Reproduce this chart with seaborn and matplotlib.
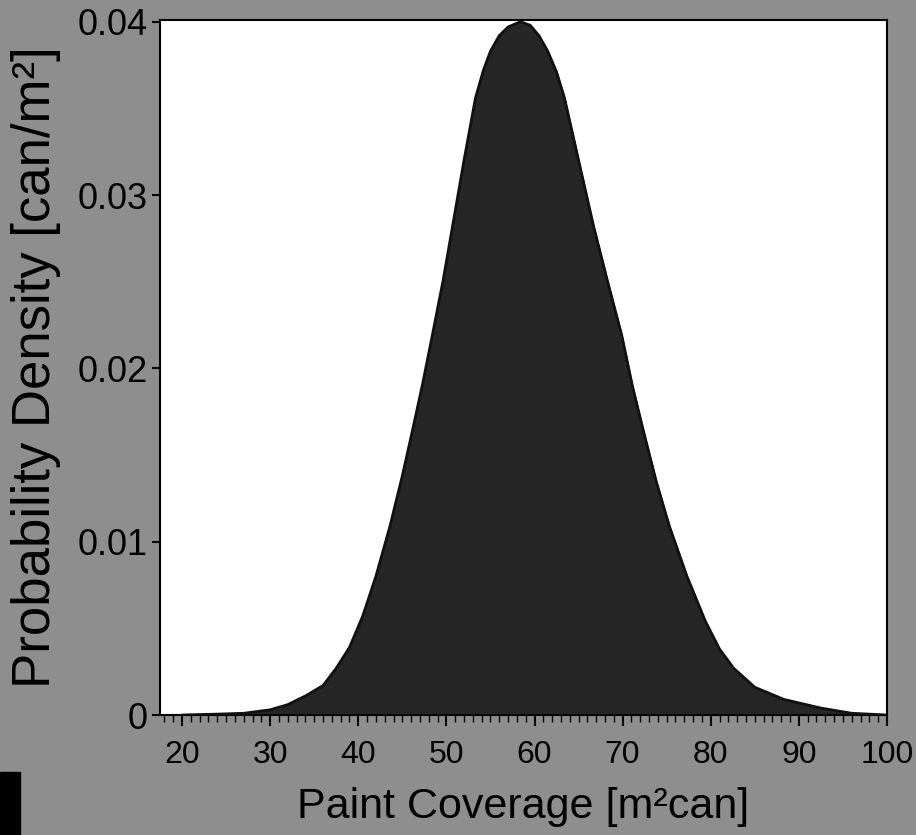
import numpy as np
import pandas as pd
import matplotlib
matplotlib.use('Agg')
import matplotlib.pyplot as plt
import seaborn as sns
from matplotlib.patches import Rectangle
from matplotlib.ticker import MultipleLocator

# Density curve
coverage = [20, 24, 27, 30, 32, 34, 36, 37.5, 39, 40.5, 42, 43.6, 45, 46.1, 47.3,
            48.4, 49.6, 50.7, 52, 53.3, 54.2, 55, 56, 57, 58.4, 59.5, 60.5, 61.5,
            62.5, 63.4, 65, 66.7, 68.3, 69.9, 71.1, 72.4, 73.8, 75.3, 77.3, 79.4,
            81, 82.6, 85, 88.3, 92.5, 96, 100]
density = [0.0, 0.00005, 0.0001, 0.0003, 0.0006, 0.0011, 0.0017, 0.0027, 0.0039,
           0.0057, 0.0080, 0.0109, 0.0138, 0.0163, 0.0191, 0.0219, 0.0250, 0.0282,
           0.0320, 0.0356, 0.0372, 0.0383, 0.0392, 0.0397, 0.0400, 0.0398, 0.0392,
           0.0383, 0.0371, 0.0356, 0.0320, 0.0282, 0.0250, 0.0219, 0.0190, 0.0163,
           0.0135, 0.0109, 0.0080, 0.0054, 0.0038, 0.0027, 0.0016, 0.0009, 0.0004,
           0.0001, 0.0]

x_ticks = [20, 30, 40, 50, 60, 70, 80, 90, 100]
y_ticks = [0, 0.01, 0.02, 0.03, 0.04]
y_tick_labels = ['0', '0.01', '0.02', '0.03', '0.04']

df = pd.DataFrame({'coverage': coverage, 'density': density})

sns.set_theme(style='white')
plt.rcParams['font.family'] = ['Liberation Sans', 'DejaVu Sans']
plt.rcParams['text.color'] = 'black'
plt.rcParams['axes.labelcolor'] = 'black'
plt.rcParams['xtick.color'] = 'black'
plt.rcParams['ytick.color'] = 'black'

bg = '#8e8e8e'
fig = plt.figure(figsize=(9.16, 8.35), dpi=100, facecolor=bg)
ax = fig.add_axes([0.1747, 0.1437, 0.7936, 0.8323])
ax.set_facecolor('white')

ax.fill_between(df['coverage'], df['density'], 0, color='#262626', zorder=2)
sns.lineplot(data=df, x='coverage', y='density', ax=ax, color='#111111',
             linewidth=2, zorder=3)

ax.set_xlim(17.5, 100)
ax.set_ylim(0, 0.0401)
ax.set_xticks(x_ticks)
ax.xaxis.set_minor_locator(MultipleLocator(1))
ax.set_yticks(y_ticks)
ax.set_yticklabels(y_tick_labels)

ax.tick_params(axis='x', which='major', direction='out', length=8, width=1.5,
               labelsize=23, pad=10, color='black', labelcolor='black', bottom=True)
ax.tick_params(axis='x', which='minor', direction='out', length=5, width=1,
               color='black', bottom=True)
ax.tick_params(axis='y', direction='out', length=6, width=1.5, labelsize=26,
               pad=3, color='black', labelcolor='black', left=True)

for s in ax.spines.values():
    s.set_color('black')
    s.set_linewidth(1.5)

ax.set_xlabel('Paint Coverage [m\u00b2can]', fontsize=31, labelpad=12, color='black')
ax.set_ylabel('Probability Density [can/m\u00b2]', fontsize=38, labelpad=12, color='black')

# dark scan artefact at lower left
fig.add_artist(Rectangle((0, 0), 0.022, 0.075, transform=fig.transFigure,
                         color='black', zorder=0))

fig.savefig('out.png', dpi=100, facecolor=bg)
